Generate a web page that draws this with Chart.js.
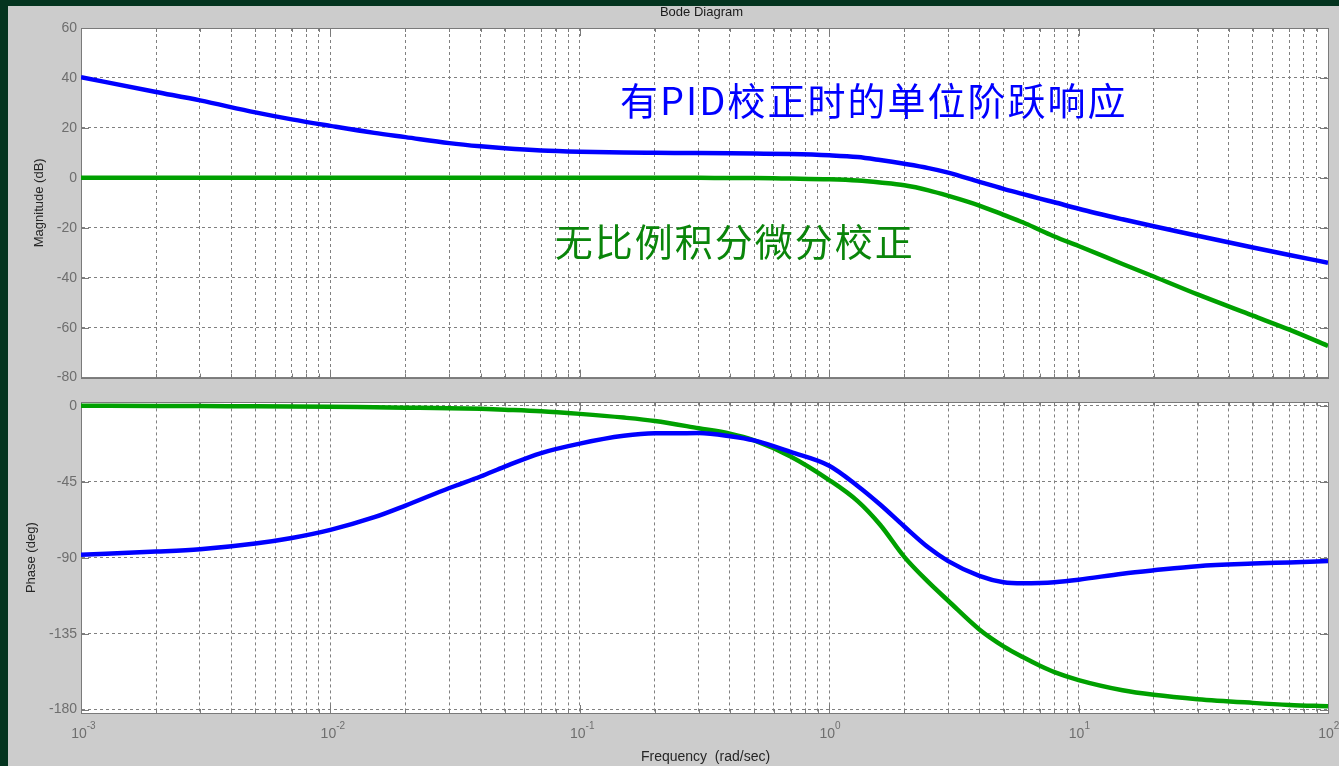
<!DOCTYPE html>
<html lang="zh">
<head>
<meta charset="UTF-8">
<title>Bode Diagram</title>
<script src="https://cdn.jsdelivr.net/npm/chart.js@4.4.1/dist/chart.umd.min.js"></script>
<style>
    body{
        margin: 0;
        width: 1339px;
        height: 766px;
        overflow: hidden;
        background-color: #04341f;
    }
    .panel{
        position: absolute;
        left: 8px;
        top: 6px;
        width: 1331px;
        height: 760px;
        background-color: #cccccc;
    }
    #magChart{ position: absolute; left: 8px; top: 6px; }
    #phaseChart{ position: absolute; left: 8px; top: 390px; }
</style>
</head>
<body>
<div class="panel"></div>
<canvas id="magChart" width="1331" height="384"></canvas>
<canvas id="phaseChart" width="1331" height="376"></canvas>
<script>
// frequency points (rad/sec)
const freq = [0.001, 0.002, 0.003, 0.005, 0.007, 0.01, 0.015, 0.02, 0.03, 0.04, 0.05, 0.07,
              0.1, 0.15, 0.2, 0.3, 0.4, 0.5, 0.7, 1, 1.3, 1.6, 2, 2.5, 3, 4, 5, 6, 7, 8,
              10, 15, 20, 30, 50, 70, 100];

// magnitude (dB)
const magPid  = [40.3, 34.4, 31.0, 26.2, 23.4, 20.8, 18.0, 16.3, 13.9, 12.6, 11.8, 10.9,
                 10.4, 10.1, 10.0, 9.9, 9.8, 9.7, 9.5, 9.0, 8.3, 7.1, 5.6, 3.9, 2.1, -1.6, -4.4, -6.5, -8.3, -9.8,
                 -12.4, -16.6, -19.4, -23.2, -27.9, -30.9, -34.0];
const magNone = [0, 0, 0, 0, 0, 0, 0, 0, 0, 0, 0, 0,
                 0, 0, 0, 0, -0.1, -0.1, -0.3, -0.6, -1.1, -1.9, -3.0, -5.0, -7.2, -11.1, -14.8, -17.9, -20.9, -23.5,
                 -27.3, -34.5, -39.5, -46.7, -55.2, -60.8, -67.3];

// phase (deg)
const phasePid  = [-88.2, -86.4, -85.0, -81.6, -78.3, -73.5, -66.0, -59.1, -48.7, -41.9, -36.0, -28.0,
                   -22.4, -17.8, -16.3, -16.2, -18.0, -20.5, -27.3, -35.5, -47.5, -58.5, -71.5, -84.0, -92.0, -100.8, -104.6, -105.2, -105.0, -104.5,
                   -103.0, -99.5, -97.5, -95.0, -93.5, -92.8, -92.0];
const phaseNone = [0, -0.1, -0.2, -0.3, -0.4, -0.6, -0.9, -1.1, -1.4, -1.8, -2.3, -3.2,
                   -4.8, -7.0, -9.0, -13.3, -16.5, -20.5, -30.0, -44.0, -56.5, -70.5, -89.5, -104.5, -115.5, -132.5, -142.5, -149.0, -154.0, -157.8,
                   -162.5, -168.5, -171.2, -173.8, -176.0, -177.2, -178.0];

const decades = [-3, -2, -1, 0, 1, 2];
const magTicks = [-80, -60, -40, -20, 0, 20, 40, 60];
const phaseTicks = [-180, -135, -90, -45, 0];

const logTicks = [];
decades.forEach(e => {
    for (let m = 1; m <= 9; m++) {
        const v = +(m * Math.pow(10, e)).toPrecision(6);
        if (v <= 100) logTicks.push(v);
    }
});

const toPoints = vals => freq.map((f, i) => ({x: f, y: vals[i]}));

Chart.defaults.font.family = 'Arial, "Liberation Sans", sans-serif';

const gridColor = '#808080';
const tickFont = {size: 14};

const xScale = () => ({
    type: 'logarithmic',
    min: 0.001,
    max: 100,
    afterBuildTicks: s => { s.ticks = logTicks.map(v => ({value: v})); },
    afterFit: s => { s.height = 0; },
    ticks: {display: false},
    grid: {color: gridColor, lineWidth: 1, drawTicks: false},
    border: {display: true, color: gridColor, dash: [3, 3]}
});

const yScale = (min, max, ticks, label, titlePad) => ({
    min: min,
    max: max,
    afterBuildTicks: s => { s.ticks = ticks.map(v => ({value: v})); },
    afterFit: s => { s.width = 73; },
    ticks: {color: '#6e6e6e', font: tickFont, padding: 4},
    grid: {color: gridColor, lineWidth: 1, drawTicks: false},
    border: {display: true, color: gridColor, dash: [3, 3]},
    title: {display: true, text: label, color: '#262626', font: {size: 13}, padding: {top: titlePad, bottom: 0}}
});

// white axes background, solid box and inward ticks like matlab
const matlabFrame = {
    id: 'matlabFrame',
    beforeDraw(chart) {
        const {ctx, chartArea: a} = chart;
        ctx.save();
        ctx.fillStyle = '#ffffff';
        ctx.fillRect(a.left, a.top, a.right - a.left, a.bottom - a.top);
        ctx.restore();
    },
    beforeDatasetsDraw(chart) {
        const {ctx, chartArea: a, scales} = chart;
        ctx.save();
        ctx.strokeStyle = '#7a7a7a';
        ctx.lineWidth = 1;
        ctx.beginPath();
        scales.x.ticks.forEach(t => {
            const px = Math.round(scales.x.getPixelForValue(t.value)) + 0.5;
            const lg = Math.log10(t.value);
            const len = Math.abs(lg - Math.round(lg)) < 1e-6 ? 8 : 4;
            ctx.moveTo(px, a.bottom); ctx.lineTo(px, a.bottom - len);
            ctx.moveTo(px, a.top); ctx.lineTo(px, a.top + len);
        });
        scales.y.ticks.forEach(t => {
            const py = Math.round(scales.y.getPixelForValue(t.value)) + 0.5;
            ctx.moveTo(a.left, py); ctx.lineTo(a.left + 8, py);
            ctx.moveTo(a.right, py); ctx.lineTo(a.right - 8, py);
        });
        ctx.stroke();
        ctx.strokeRect(Math.round(a.left) + 0.5, Math.round(a.top) + 0.5,
                       Math.round(a.right - a.left), Math.round(a.bottom - a.top));
        ctx.restore();
    }
};

const magNotes = {
    id: 'magNotes',
    afterDraw(chart) {
        const {ctx, chartArea: a, scales} = chart;
        ctx.save();
        ctx.fillStyle = '#1a1a1a';
        ctx.font = '13px Arial, "Liberation Sans", sans-serif';
        ctx.textAlign = 'center';
        ctx.textBaseline = 'middle';
        ctx.fillText('Bode Diagram', (a.left + a.right) / 2 - 3, 6.5);

        ctx.font = '38px "Noto Sans CJK SC", sans-serif';
        ctx.letterSpacing = '2px';
        ctx.textAlign = 'left';
        ctx.fillStyle = '#0000ff';
        ctx.fillText('有PID校正时的单位阶跃响应', scales.x.getPixelForValue(0.145), scales.y.getPixelForValue(30.9));
        ctx.fillStyle = '#0a850a';
        ctx.fillText('无比例积分微分校正', scales.x.getPixelForValue(0.0794), scales.y.getPixelForValue(-25.5));
        ctx.restore();
    }
};

const phaseNotes = {
    id: 'phaseNotes',
    afterDraw(chart) {
        const {ctx, chartArea: a, scales} = chart;
        ctx.save();
        ctx.fillStyle = '#6e6e6e';
        decades.forEach(e => {
            const px = scales.x.getPixelForValue(Math.pow(10, e));
            ctx.font = '14px Arial, "Liberation Sans", sans-serif';
            ctx.textAlign = 'center';
            ctx.textBaseline = 'alphabetic';
            const w = ctx.measureText('10').width;
            ctx.fillText('10', px - 2, 348);
            ctx.font = '10px Arial, "Liberation Sans", sans-serif';
            ctx.textAlign = 'left';
            ctx.fillText(String(e), px - 2 + w / 2, 339);
        });
        ctx.fillStyle = '#262626';
        ctx.font = '14px Arial, "Liberation Sans", sans-serif';
        ctx.textAlign = 'center';
        ctx.fillText('Frequency  (rad/sec)', (a.left + a.right) / 2 + 1, 371);
        ctx.restore();
    }
};

const lineOpts = {
    responsive: false,
    animation: false,
    elements: {point: {radius: 0}, line: {cubicInterpolationMode: 'monotone', borderWidth: 4.5}},
    plugins: {legend: {display: false}, tooltip: {enabled: false}}
};

new Chart(document.getElementById('magChart'), {
    type: 'line',
    data: {
        datasets: [
            {label: '有PID校正', data: toPoints(magPid), borderColor: '#0000ff'},
            {label: '无PID校正', data: toPoints(magNone), borderColor: '#00a000'}
        ]
    },
    options: Object.assign({}, lineOpts, {
        layout: {padding: {top: 22, right: 11, bottom: 7, left: 0}},
        scales: {
            x: xScale(),
            y: yScale(-80, 60, magTicks, 'Magnitude (dB)', 24)
        }
    }),
    plugins: [matlabFrame, magNotes]
});

new Chart(document.getElementById('phaseChart'), {
    type: 'line',
    data: {
        datasets: [
            {label: '有PID校正', data: toPoints(phasePid), borderColor: '#0000ff'},
            {label: '无PID校正', data: toPoints(phaseNone), borderColor: '#00a000'}
        ]
    },
    options: Object.assign({}, lineOpts, {
        layout: {padding: {top: 9, right: 11, bottom: 53, left: 0}},
        scales: {
            x: xScale(),
            y: yScale(-182, 2, phaseTicks, 'Phase (deg)', 16)
        }
    }),
    plugins: [matlabFrame, phaseNotes]
});
</script>
</body>
</html>
